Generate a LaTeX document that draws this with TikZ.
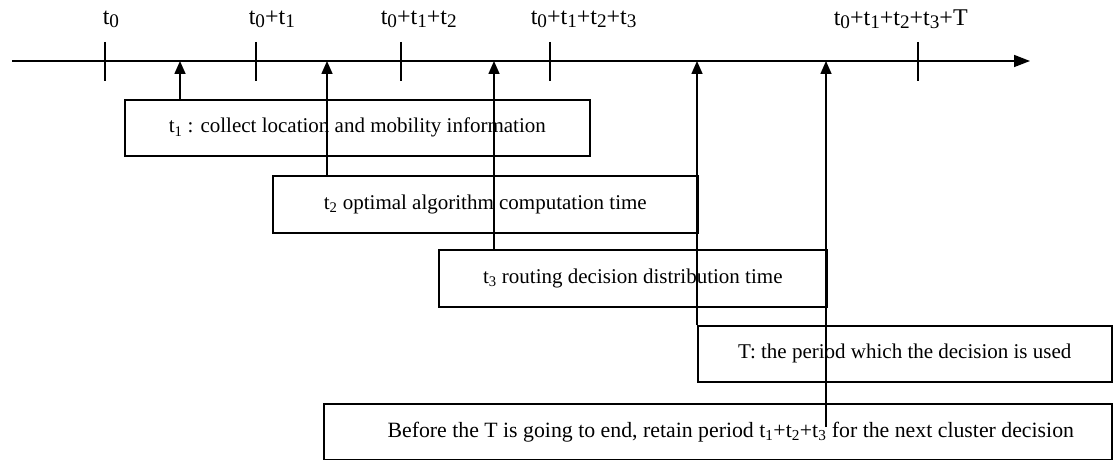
\documentclass[tikz,border=0pt]{standalone}
\usepackage{fontspec}
\setmainfont{Liberation Serif}
\usetikzlibrary{arrows.meta}
\newcommand\lsub[1]{\raisebox{-0.3ex}{\scalebox{0.8}{#1}}}
\begin{document}
\begin{tikzpicture}[x=1pt,y=-1pt,
  line width=1.6pt,
  box/.style={draw, line width=1.6pt, inner sep=0pt, anchor=north west, font=\fontsize{21}{24}\selectfont},
  lbl/.style={font=\fontsize{24}{26}\selectfont, inner sep=0pt, anchor=west},
  up/.style={-{Triangle[length=13pt,width=11pt]}, line width=1.6pt},
  tick/.style={line width=1.6pt}]
\useasboundingbox (0,0) rectangle (1114,460);
% axis
\coordinate (s) at (12,61);
\coordinate (e) at (1030,61);
\draw[-{Triangle[length=16pt,width=12pt]}] (s) -- (e);
% ticks
\foreach \n/\x in {k0/105,k1/256,k2/401,k3/550,k4/918}{
  \coordinate (\n a) at (\x,42);
  \coordinate (\n b) at (\x,81);
  \draw[tick] (\n a) -- (\n b);
}
% labels
\node[lbl] (L0) at (102,19) {t\lsub{0}};
\node[lbl] (L1) at (248,19) {t\lsub{0}+t\lsub{1}};
\node[lbl] (L2) at (380,19) {t\lsub{0}+t\lsub{1}+t\lsub{2}};
\node[lbl] (L3) at (530,19) {t\lsub{0}+t\lsub{1}+t\lsub{2}+t\lsub{3}};
\node[lbl] (L4) at (833,19) {t\lsub{0}+t\lsub{1}+t\lsub{2}+t\lsub{3}+T};
% boxes
\node[box, minimum width=465pt, minimum height=56pt] (b1) at (124,99) {t\textsubscript{1} : collect location and mobility information};
\node[box, minimum width=425pt, minimum height=57pt] (b2) at (272,175) {t\textsubscript{2} optimal algorithm computation time};
\node[box, minimum width=388pt, minimum height=57pt] (b3) at (438,249) {t\textsubscript{3} routing decision distribution time};
\node[box, minimum width=414pt, minimum height=56pt] (b4) at (697,325) {T: the period which the decision is used};
\node[box, minimum width=788pt, minimum height=56pt, font=\fontsize{21.8}{24}\selectfont] (b5) at (323,403) {\hspace{26pt}Before the T is going to end, retain period t\textsubscript{1}+t\textsubscript{2}+t\textsubscript{3} for the next cluster decision};
% arrow targets on the axis
\coordinate (a1) at (180,61);
\coordinate (a2) at (327,61);
\coordinate (a3) at (494,61);
\coordinate (a4) at (697,61);
\coordinate (a5) at (826,61);
\coordinate (f5) at (826,427);
\draw[up] (b1.north -| a1) -- (a1);
\draw[up] (b2.north -| a2) -- (a2);
\draw[up] (b3.north -| a3) -- (a3);
\draw[up] (b4.north west) -- (a4);
\draw[up] (f5) -- (a5);
\end{tikzpicture}
\end{document}
